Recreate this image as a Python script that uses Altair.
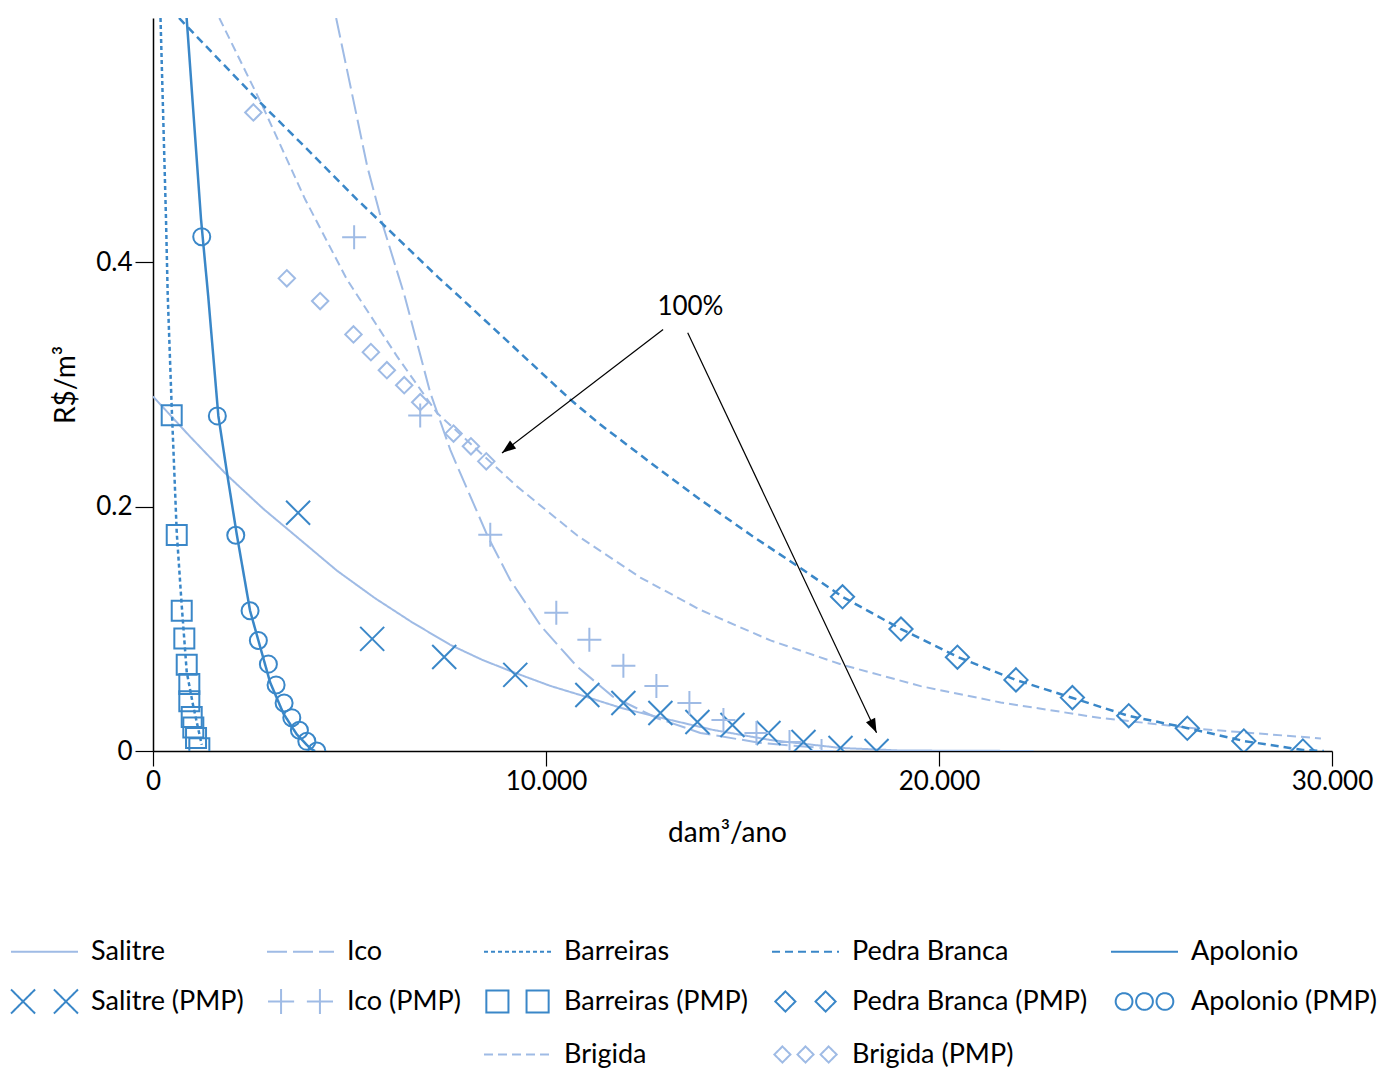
import math
import altair as alt
import pandas as pd

W, H = 1179, 733
XMAX, YMAX = 30000, 0.6
MID = "#3a87c8"
LIGHT = "#9fbbe5"
FONT = "Lato"

X_TICKS = [0, 10000, 20000, 30000]
Y_TICKS = [0, 0.2, 0.4]

# ---------------- fitted curves ----------------
salitre_x = [0, 942, 1884, 2801, 3743, 4686, 5653, 6595, 7563, 8378, 9218, 10110, 11026, 11918, 12834, 14260, 15712, 17494, 19022, 22409]
salitre_y = [0.2902, 0.2574, 0.2258, 0.1984, 0.173, 0.1475, 0.125, 0.1053, 0.0869, 0.0746, 0.0639, 0.0533, 0.0443, 0.0352, 0.0279, 0.0172, 0.009, 0.0025, 0.0004, 0.0]

ico_x = [4660, 5093, 5450, 5857, 6392, 7054, 7563, 7780, 8518, 9086, 9880, 10792, 11701, 12834, 13929, 15457, 16985]
ico_y = [0.6, 0.5336, 0.4787, 0.4295, 0.3738, 0.2934, 0.2467, 0.2303, 0.1757, 0.1402, 0.1019, 0.0691, 0.0445, 0.0268, 0.0148, 0.0066, 0.0025]

barreiras_x = [191, 331, 374, 476, 604, 731, 858, 1026, 1240]
barreiras_y = [0.6, 0.4352, 0.3738, 0.2814, 0.1789, 0.119, 0.0648, 0.0364, 0.0051]

pedra_x = [662, 2641, 3743, 5187, 7258, 7818, 10619, 11383, 12656, 13929, 15203, 16425, 17545, 19022, 20474, 21951, 23402, 24828, 26305, 27757, 29259, 29794]
pedra_y = [0.6, 0.5336, 0.4984, 0.4516, 0.3877, 0.3713, 0.2877, 0.2672, 0.2361, 0.2057, 0.177, 0.1508, 0.1262, 0.1, 0.077, 0.0582, 0.0434, 0.0287, 0.0189, 0.0082, 0.0008, 0.0]

apolonio_x = [856, 1222, 1408, 1663, 1892, 2131, 2470, 2681, 2979, 3318, 3659, 3998, 4125]
apolonio_y = [0.6, 0.4352, 0.3711, 0.2743, 0.2258, 0.1774, 0.1148, 0.0905, 0.0563, 0.0307, 0.0136, 0.0022, 0.0]

brigida_x = [1688, 2776, 3871, 4933, 6206, 7224, 9262, 10797, 12401, 13929, 15712, 17545, 19532, 21569, 24115, 26662, 29718]
brigida_y = [0.6, 0.5287, 0.4516, 0.3861, 0.3232, 0.2768, 0.2166, 0.1764, 0.142, 0.1155, 0.0905, 0.0705, 0.0531, 0.0397, 0.027, 0.018, 0.0103]

# ---------------- PMP points ----------------
salitre_pmp_x = [3692, 5577, 7410, 9218, 11052, 11969, 12911, 13853, 14744, 15661, 16552, 17494, 18411]
salitre_pmp_y = [0.195, 0.0918, 0.077, 0.0623, 0.0459, 0.0393, 0.0311, 0.0238, 0.0213, 0.0148, 0.0074, 0.0025, 0.0]

ico_pmp_x = [5118, 6799, 8582, 10262, 11103, 11969, 12809, 13649, 14515, 15355, 16196, 17011]
ico_pmp_y = [0.4205, 0.2746, 0.177, 0.1131, 0.091, 0.0697, 0.0533, 0.0393, 0.0254, 0.0148, 0.0074, 0.0]

barreiras_pmp_x = [476, 604, 731, 797, 858, 924, 924, 985, 1026, 1095, 1179]
barreiras_pmp_y = [0.2748, 0.1768, 0.1148, 0.092, 0.0706, 0.0549, 0.0407, 0.0279, 0.0193, 0.0107, 0.0022]

pedra_pmp_x = [17545, 19033, 20469, 21958, 23394, 24828, 26318, 27757, 29259]
pedra_pmp_y = [0.1262, 0.0998, 0.0768, 0.0582, 0.0437, 0.0289, 0.0186, 0.0082, 0.0]

apolonio_pmp_x = [1240, 1637, 2106, 2470, 2681, 2936, 3132, 3336, 3532, 3726, 3914, 4169]
apolonio_pmp_y = [0.421, 0.2743, 0.1766, 0.1148, 0.0905, 0.0711, 0.0541, 0.0393, 0.0273, 0.017, 0.0079, 0.0]

brigida_pmp_x = [2554, 3405, 4253, 5101, 5544, 5951, 6392, 6799, 7647, 8090, 8480]
brigida_pmp_y = [0.5227, 0.3869, 0.3683, 0.341, 0.3265, 0.3117, 0.2994, 0.2855, 0.2598, 0.2494, 0.2371]

# ---------------- annotation ----------------
ann_text = ["100%"]
ann_x = [13675]
ann_y = [0.3631]
arrow_x1 = [12980, 13606]
arrow_y1 = [0.3451, 0.3424]
arrow_x2 = [8880, 18411]
arrow_y2 = [0.244, 0.015]

# ---------------- legend entries ----------------
SERIES = ["Salitre", "Ico", "Barreiras", "Pedra Branca", "Apolonio",
          "Salitre (PMP)", "Ico (PMP)", "Barreiras (PMP)", "Pedra Branca (PMP)", "Apolonio (PMP)",
          " ", "  ", "Brigida", "Brigida (PMP)"]

STROKES = [LIGHT, LIGHT, MID, MID, MID,
           MID, LIGHT, MID, MID, MID,
           "transparent", "transparent", LIGHT, LIGHT]
SOLID = [1, 0]
DASHES = [SOLID, [20, 6], [4, 3], [8, 5], SOLID,
          SOLID, SOLID, SOLID, SOLID, SOLID,
          SOLID, SOLID, [9, 5], SOLID]

LINE = "M-1,0L1,0"
X2 = "M-1,-0.36L-0.28,0.36M-1,0.36L-0.28,-0.36M0.28,-0.36L1,0.36M0.28,0.36L1,-0.36"
P2 = "M-0.97,0L-0.19,0M-0.58,-0.37L-0.58,0.37M0.19,0L0.97,0M0.58,-0.37L0.58,0.37"
S2 = "M-0.93,-0.33L-0.27,-0.33L-0.27,0.33L-0.93,0.33ZM0.27,-0.33L0.93,-0.33L0.93,0.33L0.27,0.33Z"
D2 = "M-0.6,-0.3L-0.3,0L-0.6,0.3L-0.9,0ZM0.6,-0.3L0.9,0L0.6,0.3L0.3,0Z"
C3 = ("M-0.86,0A0.25,0.25,0,1,0,-0.36,0A0.25,0.25,0,1,0,-0.86,0Z"
      "M-0.25,0A0.25,0.25,0,1,0,0.25,0A0.25,0.25,0,1,0,-0.25,0Z"
      "M0.36,0A0.25,0.25,0,1,0,0.86,0A0.25,0.25,0,1,0,0.36,0Z")
D3 = ("M-0.69,-0.24L-0.45,0L-0.69,0.24L-0.93,0Z"
      "M0,-0.24L0.24,0L0,0.24L-0.24,0Z"
      "M0.69,-0.24L0.93,0L0.69,0.24L0.45,0Z")
SHAPES = [LINE, LINE, LINE, LINE, LINE,
          X2, P2, S2, D2, C3,
          LINE, LINE, LINE, D3]


def long_df(pairs):
    rows = []
    for name, xs, ys in pairs:
        for a, b in zip(xs, ys):
            rows.append({"series": name, "x": a, "y": b})
    return pd.DataFrame(rows)


curves = long_df([
    ("Salitre", salitre_x, salitre_y),
    ("Ico", ico_x, ico_y),
    ("Barreiras", barreiras_x, barreiras_y),
    ("Pedra Branca", pedra_x, pedra_y),
    ("Apolonio", apolonio_x, apolonio_y),
    ("Brigida", brigida_x, brigida_y),
])
pmp = long_df([
    ("Salitre (PMP)", salitre_pmp_x, salitre_pmp_y),
    ("Ico (PMP)", ico_pmp_x, ico_pmp_y),
    ("Barreiras (PMP)", barreiras_pmp_x, barreiras_pmp_y),
    ("Pedra Branca (PMP)", pedra_pmp_x, pedra_pmp_y),
    ("Apolonio (PMP)", apolonio_pmp_x, apolonio_pmp_y),
    ("Brigida (PMP)", brigida_pmp_x, brigida_pmp_y),
])

arrows = pd.DataFrame({"x1": arrow_x1, "y1": arrow_y1, "x2": arrow_x2, "y2": arrow_y2})
arrows["angle"] = [
    (math.degrees(math.atan2((b - a) * W / XMAX, (d - c) * H / YMAX)) + 360) % 360
    for a, b, c, d in zip(arrows.x1, arrows.x2, arrows.y1, arrows.y2)
]
ann = pd.DataFrame({"x": ann_x, "y": ann_y, "t": ann_text})

x_scale = alt.Scale(domain=[0, XMAX], nice=False, zero=False)
y_scale = alt.Scale(domain=[0, YMAX], nice=False, zero=False)

x_axis = alt.Axis(
    values=X_TICKS, labelExpr="replace(format(datum.value, ','), ',', '.')",
    title="dam³/ano", grid=False, domainColor="black", domainWidth=1.5,
    tickColor="black", tickWidth=1.2, tickSize=15, labelFont=FONT, labelFontSize=26,
    labelColor="black", labelPadding=2, labelFlush=False, labelOverlap=False,
    titleFont=FONT, titleFontSize=28, titleFontWeight="normal", titleColor="black",
    titlePadding=25, titleX=574,
)
y_axis = alt.Axis(
    values=Y_TICKS, labelExpr="datum.value == 0 ? '0' : format(datum.value, '.1f')",
    title="R$/m³", grid=False, domainColor="black", domainWidth=1.5,
    tickColor="black", tickWidth=1.2, tickSize=18, labelFont=FONT, labelFontSize=26,
    labelColor="black", labelPadding=3, labelFlush=False, labelOverlap=False,
    titleFont=FONT, titleFontSize=28, titleFontWeight="normal", titleColor="black",
    titlePadding=15,
)

legend = alt.Legend(
    title=None, orient="none", legendX=-143, legendY=899, direction="horizontal",
    columns=5, columnPadding=19, rowPadding=2, gridAlign="each",
    symbolSize=4489, symbolStrokeWidth=2, symbolFillColor="transparent",
    labelFont=FONT, labelFontSize=27, labelColor="black", labelOffset=12,
    labelLimit=400, padding=0,
)

stroke_enc = alt.Stroke("series:N", scale=alt.Scale(domain=SERIES, range=STROKES), legend=legend)
dash_enc = alt.StrokeDash("series:N", scale=alt.Scale(domain=SERIES, range=DASHES), legend=legend)
shape_enc = alt.Shape("series:N", scale=alt.Scale(domain=SERIES, range=SHAPES), legend=legend)


def xy(xf="x", yf="y"):
    return dict(
        x=alt.X(f"{xf}:Q", scale=x_scale, axis=x_axis),
        y=alt.Y(f"{yf}:Q", scale=y_scale, axis=y_axis),
    )


legend_layer = alt.Chart(curves).transform_filter("false").mark_point(
    filled=False, strokeWidth=2, opacity=1
).encode(stroke=stroke_enc, strokeDash=dash_enc, shape=shape_enc, **xy())

line_light = alt.Chart(curves).transform_filter(
    alt.FieldOneOfPredicate(field="series", oneOf=["Salitre", "Ico", "Brigida"])
).mark_line(clip=True, strokeWidth=2).encode(stroke=stroke_enc, strokeDash=dash_enc, **xy())

line_mid = alt.Chart(curves).transform_filter(
    alt.FieldOneOfPredicate(field="series", oneOf=["Barreiras", "Pedra Branca", "Apolonio"])
).mark_line(clip=True, strokeWidth=2.5).encode(stroke=stroke_enc, strokeDash=dash_enc, **xy())

POINT_STYLE = [
    ("Salitre (PMP)", "M-1,-1L1,1M-1,1L1,-1", 576),
    ("Ico (PMP)", "M-1,0L1,0M0,-1L0,1", 576),
    ("Barreiras (PMP)", "square", 400),
    ("Pedra Branca (PMP)", "diamond", 540),
    ("Apolonio (PMP)", "circle", 290),
    ("Brigida (PMP)", "diamond", 270),
]
point_layers = [
    alt.Chart(pmp).transform_filter(alt.datum.series == name).mark_point(
        shape=shp, size=sz, filled=False, strokeWidth=2, opacity=1, clip=True
    ).encode(stroke=stroke_enc, **xy())
    for name, shp, sz in POINT_STYLE
]

rules = alt.Chart(arrows).mark_rule(color="black", strokeWidth=1.2).encode(
    x2="x2:Q", y2="y2:Q", **xy("x1", "y1")
)
heads = alt.Chart(arrows).mark_point(
    shape="M0,0L-0.36,1L0.36,1Z", size=784, filled=True, color="black", opacity=1
).encode(angle=alt.Angle("angle:Q", scale=None), **xy("x2", "y2"))

label = alt.Chart(ann).mark_text(
    font=FONT, fontSize=26, color="black", align="center", baseline="middle"
).encode(text="t:N", **xy())

chart = alt.layer(
    legend_layer, line_light, line_mid, *point_layers, rules, heads, label
).properties(
    width=W, height=H, padding={"left": 2, "top": 10, "right": 0, "bottom": 5}
).configure(font=FONT, background="white").configure_view(stroke=None)

chart.save("out.html", embed_options={"renderer": "svg", "actions": False})
